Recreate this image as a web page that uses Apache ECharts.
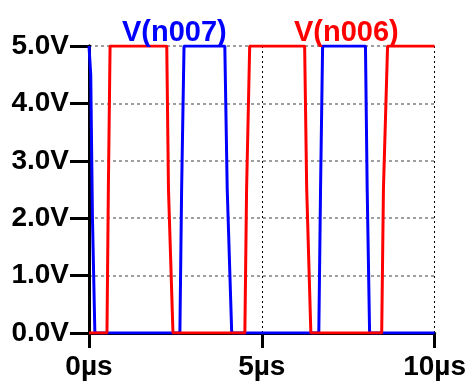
<!DOCTYPE html>
<html>
<head>
<meta charset="utf-8">
<script src="https://cdn.jsdelivr.net/npm/echarts@6/dist/echarts.min.js"></script>
<style>
  html, body { margin: 0; padding: 0; background: #fff; }
  #chart { width: 469px; height: 381px; }
</style>
</head>
<body>
<div id="chart"></div>
<script>
// V(n007), blue trace (time in µs, volts)
const blueTimes = [0, 0.05, 0.1, 0.17, 2.63, 2.68, 2.75, 3.93, 4.0, 4.13, 6.65, 6.7, 6.76, 8.0, 8.05, 8.12, 10]
const blueVolts = [5, 4.5, 2.0, 0, 0, 2.5, 5, 5, 2.5, 0, 0, 2.5, 5, 5, 2.5, 0, 0]
// V(n006), red trace
const redTimes = [0, 0.52, 0.56, 0.61, 2.25, 2.3, 2.43, 4.51, 4.56, 4.65, 6.24, 6.3, 6.42, 8.47, 8.52, 8.64, 10]
const redVolts = [0, 0, 2.5, 5, 5, 2.5, 0, 0, 2.5, 5, 5, 2.5, 0, 0, 2.5, 5, 5]
const traceNames = ['V(n007)', 'V(n006)']
const traceColors = ['#0000ff', '#ff0000']

const chart = echarts.init(document.getElementById('chart'))

const toPairs = (ts, vs) => ts.map((t, i) => [t, vs[i]])
const labelFont = {
  color: '#000',
  fontFamily: 'Liberation Sans, Arial, sans-serif',
  fontWeight: 'bold',
  fontSize: 28
}

const option = {
  animation: false,
  backgroundColor: '#fff',
  title: [
    {
      text: traceNames[0],
      left: 117,
      top: 13,
      textStyle: { color: traceColors[0], fontFamily: 'Liberation Sans, Arial, sans-serif', fontWeight: 'bold', fontSize: 29 }
    },
    {
      text: traceNames[1],
      left: 289,
      top: 13,
      textStyle: { color: traceColors[1], fontFamily: 'Liberation Sans, Arial, sans-serif', fontWeight: 'bold', fontSize: 29 }
    }
  ],
  grid: { left: 89, right: 34, top: 46, bottom: 48 },
  xAxis: [
    {
      type: 'value',
      min: 0,
      max: 10,
      interval: 5,
      position: 'bottom',
      axisLine: { show: true, lineStyle: { color: '#000', width: 3 } },
      axisTick: { show: true, length: 15, lineStyle: { color: '#000', width: 3 } },
      axisLabel: Object.assign({ margin: 20, formatter: v => v + 'µs' }, labelFont),
      splitLine: { show: true, lineStyle: { color: '#000', width: 1, type: [2, 3] } }
    },
    {
      type: 'value',
      min: 0,
      max: 10,
      position: 'top',
      axisLine: { show: true, lineStyle: { color: '#000', width: 3 } },
      axisTick: { show: false },
      axisLabel: { show: false },
      splitLine: { show: false }
    }
  ],
  yAxis: [
    {
      type: 'value',
      min: 0,
      max: 5,
      interval: 1,
      position: 'left',
      axisLine: { show: true, lineStyle: { color: '#000', width: 3 } },
      axisTick: { show: true, length: 19, lineStyle: { color: '#000', width: 3 } },
      axisLabel: Object.assign({ margin: 20, formatter: v => v.toFixed(1) + 'V' }, labelFont),
      splitLine: { show: true, lineStyle: { color: '#808080', width: 1.5, type: [3, 3] } }
    },
    {
      type: 'value',
      min: 0,
      max: 5,
      position: 'right',
      axisLine: { show: true, lineStyle: { color: '#000', width: 3 } },
      axisTick: { show: false },
      axisLabel: { show: false },
      splitLine: { show: false }
    }
  ],
  series: [
    {
      name: traceNames[0],
      type: 'line',
      showSymbol: false,
      data: toPairs(blueTimes, blueVolts),
      lineStyle: { color: traceColors[0], width: 3 },
      z: 3
    },
    {
      name: traceNames[1],
      type: 'line',
      showSymbol: false,
      data: toPairs(redTimes, redVolts),
      lineStyle: { color: traceColors[1], width: 3 },
      z: 4
    }
  ]
}

chart.setOption(option)
</script>
</body>
</html>
